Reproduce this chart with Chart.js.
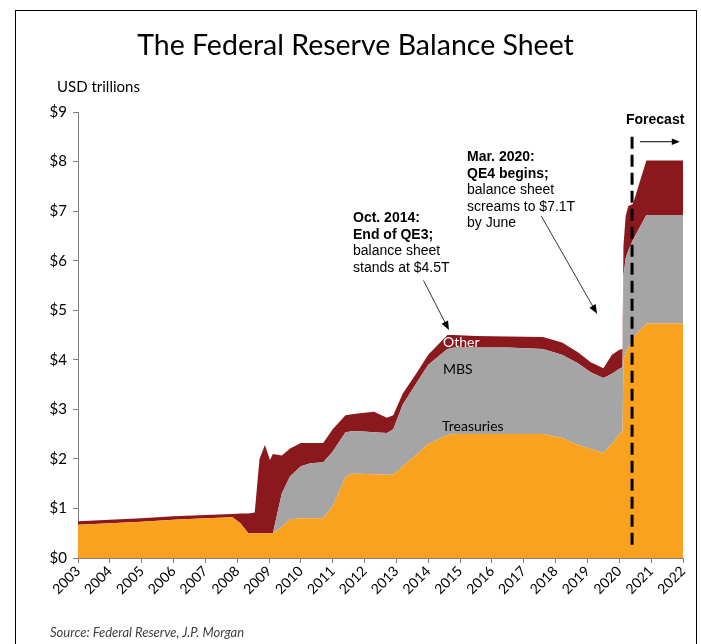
<!DOCTYPE html>
<html>
<head>
<meta charset="utf-8">
<script src="https://cdn.jsdelivr.net/npm/chart.js@4"></script>
<style>
  html,body{margin:0;padding:0;background:#fff;}
  body{width:701px;height:644px;position:relative;overflow:hidden;font-family:Lato, "Open Sans", sans-serif;}
  #frame{position:absolute;left:15px;top:10px;width:682px;height:700px;border:1px solid #000;box-sizing:border-box;}
  #wrap{position:absolute;left:0;top:0;width:701px;height:644px;}
  .t{position:absolute;white-space:nowrap;color:#000;}
  #title{left:0;width:711px;top:27px;text-align:center;font-size:28.5px;}
  #unit{left:57px;top:77px;font-size:15px;}
  .ann{font-family:"Liberation Sans", Arial, sans-serif;font-size:14px;line-height:16.5px;}
  .ann b{font-weight:bold;}
  #src{left:50px;top:624px;font-size:13px;font-style:italic;color:#404040;}
  .lab{font-size:14px;}
</style>
</head>
<body>
<div id="frame"></div>
<div id="wrap"><canvas id="c" width="701" height="644"></canvas></div>
<div class="t" id="title">The Federal Reserve Balance Sheet</div>
<div class="t" id="unit">USD trillions</div>
<div class="t ann" style="left:353px;top:209px;"><b>Oct. 2014:</b><br><b>End of QE3;</b><br>balance sheet<br>stands at $4.5T</div>
<div class="t ann" style="left:467px;top:148px;"><b>Mar. 2020:</b><br><b>QE4 begins;</b><br>balance sheet<br>screams to $7.1T<br>by June</div>
<div class="t ann" style="left:626px;top:111px;font-weight:bold;">Forecast</div>
<div class="t lab" style="left:443px;top:333px;color:#fff;">Other</div>
<div class="t lab" style="left:443px;top:360px;">MBS</div>
<div class="t lab" style="left:442px;top:417px;">Treasuries</div>
<div class="t" id="src">Source: Federal Reserve, J.P. Morgan</div>
<script>
const years = [2003.0,2004.0,2005.0,2006.0,2007.0,2007.85,2008.1,2008.35,2008.55,2008.7,2008.87,2009.03,2009.12,2009.4,2009.66,2010.0,2010.3,2010.7,2011.0,2011.4,2011.6,2011.85,2012.3,2012.7,2012.9,2013.2,2013.65,2014.0,2014.6,2014.8,2015.5,2016.5,2017.6,2018.2,2018.7,2019.1,2019.5,2019.77,2020.0,2020.1,2020.13,2020.2,2020.28,2020.43,2020.85,2022.0];
const treasuries = [0.67,0.70,0.73,0.77,0.80,0.82,0.70,0.50,0.50,0.50,0.50,0.50,0.50,0.63,0.78,0.80,0.80,0.80,1.05,1.64,1.70,1.70,1.69,1.68,1.68,1.85,2.10,2.30,2.48,2.50,2.50,2.50,2.50,2.42,2.28,2.20,2.12,2.30,2.50,2.55,4.00,4.15,4.25,4.45,4.73,4.73];
const mbs = [0,0,0,0,0,0,0,0,0,0,0,0,0,0.67,0.87,1.05,1.11,1.13,1.10,0.90,0.86,0.86,0.85,0.84,0.92,1.25,1.45,1.60,1.74,1.75,1.75,1.75,1.72,1.68,1.65,1.55,1.51,1.42,1.32,1.30,1.70,1.90,1.95,1.97,2.19,2.19];
const other = [0.07,0.07,0.07,0.07,0.07,0.07,0.20,0.40,0.42,1.50,1.78,1.48,1.60,0.77,0.56,0.47,0.41,0.39,0.45,0.34,0.34,0.36,0.41,0.31,0.28,0.22,0.20,0.20,0.28,0.25,0.23,0.22,0.24,0.25,0.22,0.20,0.20,0.38,0.38,0.37,0.60,0.85,0.90,0.73,1.10,1.10];
const yTicks = [0,1,2,3,4,5,6,7,8,9];
const xTicks = [2003,2004,2005,2006,2007,2008,2009,2010,2011,2012,2013,2014,2015,2016,2017,2018,2019,2020,2021,2022];
const forecastStart = 2020.4;
const arrows = [
  {from:[2013.85,5.6], to:[2014.65,4.6]},
  {from:[2017.55,6.9], to:[2019.3,4.93]}
];

const pts = arr => years.map((x,i)=>({x:x,y:arr[i]}));

const overlay = {
  id:'overlay',
  afterDatasetsDraw(chart){
    const {ctx, scales:{x,y}} = chart;
    ctx.save();
    const fx = x.getPixelForValue(forecastStart);
    ctx.strokeStyle='#000'; ctx.lineWidth=3; ctx.setLineDash([12,6]);
    ctx.beginPath(); ctx.moveTo(fx, y.getPixelForValue(8.5)); ctx.lineTo(fx, y.getPixelForValue(0.16)); ctx.stroke();
    ctx.setLineDash([]);
    drawArrow(ctx, x.getPixelForValue(2020.65), y.getPixelForValue(8.4), x.getPixelForValue(2021.9), y.getPixelForValue(8.4), 1, 8);
    arrows.forEach(a=>{
      drawArrow(ctx, x.getPixelForValue(a.from[0]), y.getPixelForValue(a.from[1]), x.getPixelForValue(a.to[0]), y.getPixelForValue(a.to[1]), 0.8, 9);
    });
    ctx.restore();
  }
};
function drawArrow(ctx,x1,y1,x2,y2,w,h){
  ctx.strokeStyle='#000'; ctx.fillStyle='#000'; ctx.lineWidth=w;
  const ang=Math.atan2(y2-y1,x2-x1);
  ctx.beginPath(); ctx.moveTo(x1,y1); ctx.lineTo(x2-Math.cos(ang)*h*0.8,y2-Math.sin(ang)*h*0.8); ctx.stroke();
  ctx.beginPath();
  ctx.moveTo(x2,y2);
  ctx.lineTo(x2-h*Math.cos(ang)+h*0.4*Math.sin(ang), y2-h*Math.sin(ang)-h*0.4*Math.cos(ang));
  ctx.lineTo(x2-h*Math.cos(ang)-h*0.4*Math.sin(ang), y2-h*Math.sin(ang)+h*0.4*Math.cos(ang));
  ctx.closePath(); ctx.fill();
}

new Chart(document.getElementById('c'), {
  type:'line',
  data:{datasets:[
    {label:'Treasuries', data:pts(treasuries), backgroundColor:'#F9A21F', borderWidth:0, pointRadius:0, fill:'origin', tension:0},
    {label:'MBS', data:pts(mbs), backgroundColor:'#A5A5A5', borderWidth:0, pointRadius:0, fill:'-1', tension:0},
    {label:'Other', data:pts(other), backgroundColor:'#8A181D', borderWidth:0, pointRadius:0, fill:'-1', tension:0}
  ]},
  options:{
    responsive:false, animation:false, devicePixelRatio:1,
    layout:{padding:{left:0,right:18,top:112,bottom:0}},
    plugins:{legend:{display:false}, tooltip:{enabled:false}},
    scales:{
      x:{type:'linear', min:2003, max:2022,
        afterBuildTicks(s){ s.ticks = xTicks.map(v=>({value:v})); },
        afterFit(s){ s.height = 86; },
        grid:{drawOnChartArea:false, drawTicks:true, tickLength:5, color:'#808080'},
        border:{display:true,color:'#808080',width:1},
        ticks:{minRotation:45,maxRotation:45,autoSkip:false,color:'#000',font:{family:'Lato',size:14},padding:0,
          callback:v=>String(v)}
      },
      y:{stacked:true, min:0, max:9,
        afterBuildTicks(s){ s.ticks = yTicks.map(v=>({value:v})); },
        afterFit(s){ s.width = 78; },
        grid:{drawOnChartArea:false, drawTicks:true, tickLength:5, color:'#808080'},
        border:{display:true,color:'#808080',width:1},
        ticks:{color:'#000',font:{family:'Lato',size:15},padding:6,callback:v=>'$'+v}
      }
    }
  },
  plugins:[overlay]
});
</script>
</body>
</html>
